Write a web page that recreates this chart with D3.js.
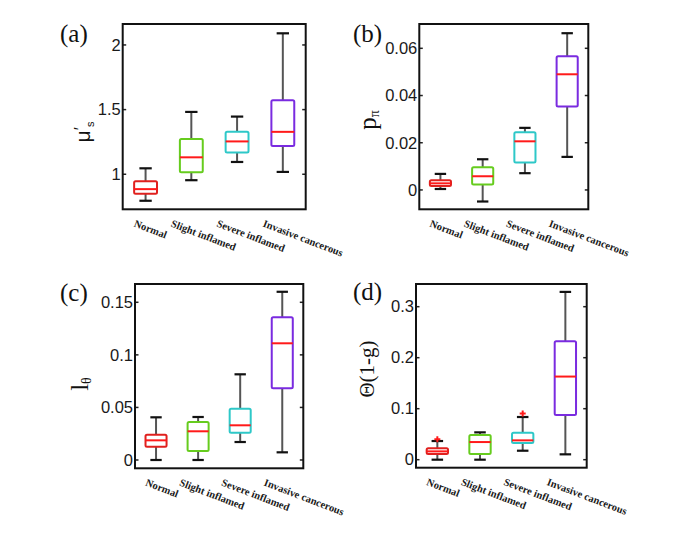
<!DOCTYPE html>
<html>
<head>
<meta charset="utf-8">
<script src="https://cdn.jsdelivr.net/npm/d3@7/dist/d3.min.js"></script>
<style>
  html, body { margin: 0; padding: 0; background: #fff; }
  svg { display: block; }
</style>
</head>
<body>
<svg id="chart" width="691" height="535"></svg>
<script>
// ---------------- DATA ----------------
const categories = ["Normal", "Slight inflamed", "Severe inflamed", "Invasive cancerous"];
const colors = ["#e0201e", "#66cc1e", "#2ec8c8", "#7a2be0"];

// five-number summaries per category: [whisker low, Q1, median, Q3, whisker high]
const muS = [
  [0.795, 0.849, 0.885, 0.946, 1.046],
  [0.954, 1.015, 1.131, 1.272, 1.482],
  [1.095, 1.169, 1.254, 1.328, 1.446],
  [1.018, 1.218, 1.328, 1.572, 2.090]
];
const pPi = [
  [0.0004, 0.0017, 0.0028, 0.0041, 0.0068],
  [-0.0049, 0.0023, 0.0058, 0.0096, 0.0130],
  [0.0071, 0.0116, 0.0206, 0.0244, 0.0263],
  [0.0140, 0.0353, 0.0490, 0.0566, 0.0664]
];
const lTheta = [
  [0.0000, 0.0127, 0.0187, 0.0241, 0.0406],
  [0.0000, 0.0086, 0.0273, 0.0362, 0.0409],
  [0.0171, 0.0260, 0.0330, 0.0488, 0.0815],
  [0.0073, 0.0682, 0.1110, 0.1357, 0.1600]
];
const theta1g = [
  [0.0000, 0.0111, 0.0163, 0.0222, 0.0366],
  [0.0000, 0.0111, 0.0346, 0.0484, 0.0536],
  [0.0176, 0.0327, 0.0379, 0.0529, 0.0837],
  [0.0105, 0.0876, 0.1630, 0.2320, 0.3290]
];
// outliers per category
const muSOut = [[], [], [], []];
const pPiOut = [[], [], [], []];
const lThetaOut = [[], [], [], []];
const theta1gOut = [[0.040], [], [0.0908], []];

// y-axis domains and tick labels
const muSDomain = [0.729, 2.162];
const pPiDomain = [-0.0082, 0.0703];
const lThetaDomain = [-0.0079, 0.1674];
const theta1gDomain = [-0.0157, 0.3445];
const muSTicks = [1, 1.5, 2];
const muSTickLabels = ["1", "1.5", "2"];
const pPiTicks = [0, 0.02, 0.04, 0.06];
const pPiTickLabels = ["0", "0.02", "0.04", "0.06"];
const lThetaTicks = [0, 0.05, 0.1, 0.15];
const lThetaTickLabels = ["0", "0.05", "0.1", "0.15"];
const theta1gTicks = [0, 0.1, 0.2, 0.3];
const theta1gTickLabels = ["0", "0.1", "0.2", "0.3"];

// ---------------- LAYOUT ----------------
const panels = [
  { tag: "(a)", stats: muS, out: muSOut, domain: muSDomain, ticks: muSTicks, tickLabels: muSTickLabels,
    box: { l: 122.7, t: 24, r: 305.7, b: 209.3 }, tagPos: [60, 42], ylab: "a", ylabPos: [90, 132] },
  { tag: "(b)", stats: pPi, out: pPiOut, domain: pPiDomain, ticks: pPiTicks, tickLabels: pPiTickLabels,
    box: { l: 419.3, t: 24, r: 588.3, b: 209.3 }, tagPos: [353, 42], ylab: "b", ylabPos: [376, 120] },
  { tag: "(c)", stats: lTheta, out: lThetaOut, domain: lThetaDomain, ticks: lThetaTicks, tickLabels: lThetaTickLabels,
    box: { l: 135, t: 284, r: 303.3, b: 468.3 }, tagPos: [60, 301], ylab: "c", ylabPos: [88, 384] },
  { tag: "(d)", stats: theta1g, out: theta1gOut, domain: theta1gDomain, ticks: theta1gTicks, tickLabels: theta1gTickLabels,
    box: { l: 416, t: 284, r: 586.7, b: 467.7 }, tagPos: [353, 300], ylab: "d", ylabPos: [374, 369] }
];
const labelOffsets = [-0.27, -0.46, -0.46, -0.45]; // in category steps

const svg = d3.select("#chart");

panels.forEach(p => {
  const g = svg.append("g");
  const B = p.box;
  const x = d3.scaleLinear().domain([0.5, categories.length + 0.5]).range([B.l, B.r]);
  const y = d3.scaleLinear().domain(p.domain).range([B.b, B.t]);
  const step = x(2) - x(1);

  // inner ticks on left and right
  const tickLen = 3.5;
  g.selectAll(".tl").data(p.ticks).join("line")
    .attr("x1", B.l).attr("x2", B.l + tickLen)
    .attr("y1", d => y(d)).attr("y2", d => y(d))
    .attr("stroke", "#222").attr("stroke-width", 1.5);
  g.selectAll(".tr").data(p.ticks).join("line")
    .attr("x1", B.r).attr("x2", B.r - tickLen)
    .attr("y1", d => y(d)).attr("y2", d => y(d))
    .attr("stroke", "#222").attr("stroke-width", 1.5);

  // tick labels
  g.selectAll(".tlab").data(p.ticks).join("text")
    .attr("x", B.l - 2).attr("y", d => y(d))
    .attr("dy", "0.35em")
    .attr("text-anchor", "end")
    .attr("font-family", "Liberation Sans, Arial, sans-serif")
    .attr("font-size", 16.5)
    .attr("fill", "#1a1a1a")
    .text((d, i) => p.tickLabels[i]);

  // boxes
  p.stats.forEach((s, i) => {
    const cx = x(i + 1);
    const hw = 0.25 * step;
    const cw = 0.135 * step;
    const col = colors[i];
    // whiskers
    g.append("line").attr("x1", cx).attr("x2", cx).attr("y1", y(s[3])).attr("y2", y(s[4]))
      .attr("stroke", "#555").attr("stroke-width", 2);
    g.append("line").attr("x1", cx).attr("x2", cx).attr("y1", y(s[1])).attr("y2", y(s[0]))
      .attr("stroke", "#555").attr("stroke-width", 2);
    // caps
    [s[0], s[4]].forEach(v => {
      g.append("line").attr("x1", cx - cw).attr("x2", cx + cw).attr("y1", y(v)).attr("y2", y(v))
        .attr("stroke", "#111").attr("stroke-width", 2.2);
    });
    // box
    g.append("rect")
      .attr("x", cx - hw).attr("y", y(s[3]))
      .attr("width", 2 * hw).attr("height", y(s[1]) - y(s[3]))
      .attr("fill", "none").attr("stroke", col).attr("stroke-width", 2)
      .attr("rx", 1.5);
    // median
    g.append("line").attr("x1", cx - hw).attr("x2", cx + hw).attr("y1", y(s[2])).attr("y2", y(s[2]))
      .attr("stroke", "#ff1a1a").attr("stroke-width", 2);
    // outliers
    p.out[i].forEach(v => {
      g.append("path")
        .attr("d", `M${cx - 3},${y(v)}H${cx + 3}M${cx},${y(v) - 3}V${y(v) + 3}`)
        .attr("stroke", "#ff1a1a").attr("stroke-width", 2).attr("fill", "none");
    });
  });

  // frame
  g.append("rect").attr("x", B.l).attr("y", B.t).attr("width", B.r - B.l).attr("height", B.b - B.t)
    .attr("fill", "none").attr("stroke", "#111").attr("stroke-width", 2);

  // x category labels
  categories.forEach((c, i) => {
    const sx = x(i + 1) + labelOffsets[i] * step;
    const sy = B.b + 17;
    g.append("text")
      .attr("transform", `translate(${sx},${sy}) rotate(21)`)
      .attr("font-family", "Liberation Serif, Times New Roman, serif")
      .attr("font-weight", "bold")
      .attr("font-size", 10.5)
      .attr("fill", "#1a1a1a")
      .text(c);
  });

  // panel tag
  g.append("text").attr("x", p.tagPos[0]).attr("y", p.tagPos[1])
    .attr("font-family", "Liberation Serif, Times New Roman, serif")
    .attr("font-size", 25).attr("fill", "#111").text(p.tag);

  // y label
  const yl = g.append("text")
    .attr("transform", `translate(${p.ylabPos[0]},${p.ylabPos[1]}) rotate(-90)`)
    .attr("text-anchor", "middle")
    .attr("fill", "#111");
  if (p.ylab === "a") {
    yl.attr("font-family", "Liberation Sans, Arial, sans-serif").attr("font-size", 21);
    yl.append("tspan").text("μ");
    yl.append("tspan").attr("font-size", 17).attr("dy", -4).text("′");
    yl.append("tspan").attr("font-size", 11).attr("dy", 8).text("s");
  } else if (p.ylab === "b") {
    yl.attr("font-family", "Liberation Serif, Times New Roman, serif").attr("font-size", 25);
    yl.append("tspan").text("p");
    yl.append("tspan").attr("font-size", 14).attr("dy", 3).text("π");
  } else if (p.ylab === "c") {
    yl.attr("font-family", "Liberation Serif, Times New Roman, serif").attr("font-size", 25);
    yl.append("tspan").text("l");
    yl.append("tspan").attr("font-size", 14).attr("dy", 3).text("θ");
  } else {
    yl.attr("font-family", "Liberation Serif, Times New Roman, serif").attr("font-size", 21);
    yl.text("Θ(1-g)");
  }
});
</script>
</body>
</html>
